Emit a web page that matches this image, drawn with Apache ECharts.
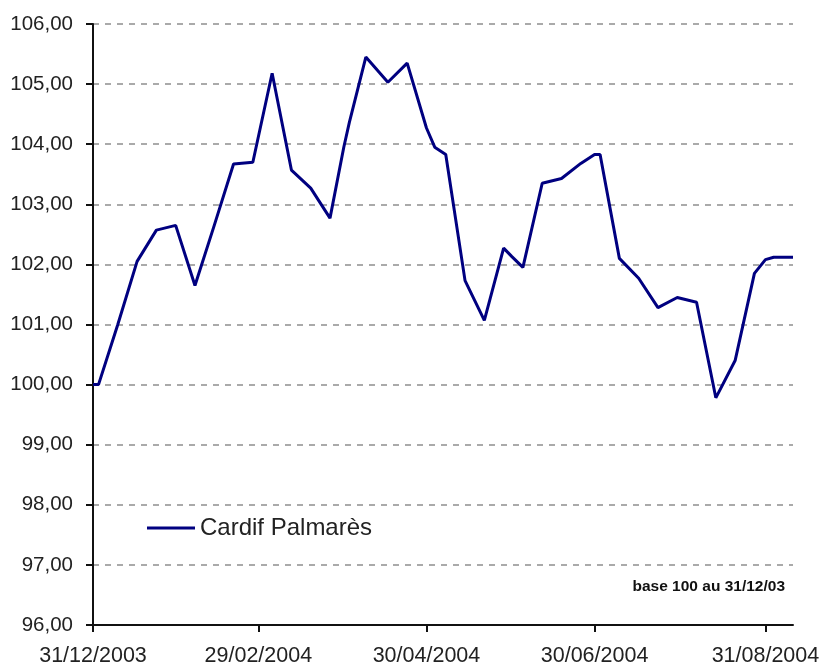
<!DOCTYPE html>
<html lang="fr">
<head>
    <meta charset="UTF-8">
    <script src="https://cdn.jsdelivr.net/npm/echarts@6/dist/echarts.min.js"></script>
    <title>Cardif Palmarès</title>
    <style>
        html, body { margin: 0; padding: 0; background: #fff; }
        #main { width: 819px; height: 664px; }
    </style>
</head>
<body>
<div id="main"></div>
<script>
    // dates des points (fin de semaine + fins de mois)
    var dates = [
        '2003-12-31', '2004-01-02', '2004-01-09', '2004-01-16', '2004-01-23', '2004-01-30',
        '2004-02-06', '2004-02-13', '2004-02-20', '2004-02-27', '2004-03-05', '2004-03-12',
        '2004-03-19', '2004-03-26', '2004-03-31', '2004-04-02', '2004-04-08', '2004-04-16',
        '2004-04-23', '2004-04-30', '2004-05-03', '2004-05-07', '2004-05-14', '2004-05-21',
        '2004-05-28', '2004-05-31', '2004-06-04', '2004-06-11', '2004-06-18', '2004-06-25',
        '2004-06-30', '2004-07-02', '2004-07-09', '2004-07-16', '2004-07-23', '2004-07-30',
        '2004-08-06', '2004-08-13', '2004-08-20', '2004-08-27', '2004-08-31', '2004-09-03',
        '2004-09-10'
    ];
    // base 100 au 31/12/03
    var values = [
        100.00, 100.00, 101.00, 102.05, 102.57, 102.65,
        101.65, 102.65, 103.67, 103.70, 105.18, 103.57,
        103.27, 102.77, 103.95, 104.36, 105.45, 105.03,
        105.35, 104.27, 103.95, 103.83, 101.73, 101.07,
        102.27, 102.13, 101.95, 103.35, 103.43, 103.68,
        103.83, 103.83, 102.10, 101.77, 101.28, 101.45,
        101.37, 99.78, 100.40, 101.85, 102.08, 102.12,
        102.12
    ];
    var tickDates = ['2003-12-31', '2004-02-29', '2004-04-30', '2004-06-30', '2004-08-31'];
    var seriesName = 'Cardif Palmarès';

    function toTime(s) {
        var p = s.split('-');
        return Date.UTC(+p[0], +p[1] - 1, +p[2]);
    }
    function pad(n) { return n < 10 ? '0' + n : '' + n; }

    var ticks = tickDates.map(toTime);
    var lineData = dates.map(function (d, i) { return [toTime(d), values[i]]; });

    var chart = echarts.init(document.getElementById('main'));
    var txt = '#222';
    var option = {
        backgroundColor: '#fff',
        animation: false,
        grid: { left: 93, right: 26, top: 24, bottom: 39, outerBoundsMode: 'none', containLabel: false },
        legend: {
            data: [seriesName],
            left: 147,
            top: 516,
            padding: 0,
            icon: 'rect',
            itemWidth: 48,
            itemHeight: 3,
            itemGap: 5,
            textStyle: { fontFamily: 'Liberation Sans', fontSize: 24, color: txt }
        },
        xAxis: {
            // axe des dates en millisecondes
            type: 'value',
            min: toTime('2003-12-31'),
            max: toTime('2004-09-10'),
            axisLine: { lineStyle: { color: '#111', width: 2 } },
            axisTick: {
                show: true,
                customValues: ticks,
                length: 7,
                lineStyle: { color: '#111', width: 2 }
            },
            axisLabel: {
                customValues: ticks,
                margin: 20,
                hideOverlap: false,
                showMinLabel: true,
                showMaxLabel: true,
                fontFamily: 'Liberation Sans',
                fontSize: 21.5,
                color: txt,
                formatter: function (v) {
                    var d = new Date(v);
                    return pad(d.getUTCDate()) + '/' + pad(d.getUTCMonth() + 1) + '/' + d.getUTCFullYear();
                }
            },
            splitLine: { show: false }
        },
        yAxis: {
            type: 'value',
            min: 96,
            max: 106,
            interval: 1,
            axisLine: { show: true, lineStyle: { color: '#111', width: 2 } },
            axisTick: { show: true, length: 7, lineStyle: { color: '#111', width: 2 } },
            axisLabel: {
                margin: 20,
                fontFamily: 'Liberation Sans',
                fontSize: 20.5,
                color: txt,
                formatter: function (v) { return v.toFixed(2).replace('.', ','); }
            },
            splitLine: { lineStyle: { color: '#aaa', width: 2, type: [6, 6] } }
        },
        graphic: [{
            type: 'text',
            right: 34,
            top: 579,
            style: {
                text: 'base 100 au 31/12/03',
                font: 'bold 15.5px "Liberation Sans"',
                fill: '#111'
            }
        }],
        series: [{
            name: seriesName,
            type: 'line',
            data: lineData,
            showSymbol: false,
            symbol: 'none',
            lineStyle: { color: '#000080', width: 3 },
            itemStyle: { color: '#000080' }
        }]
    };
    chart.setOption(option);
</script>
</body>
</html>
